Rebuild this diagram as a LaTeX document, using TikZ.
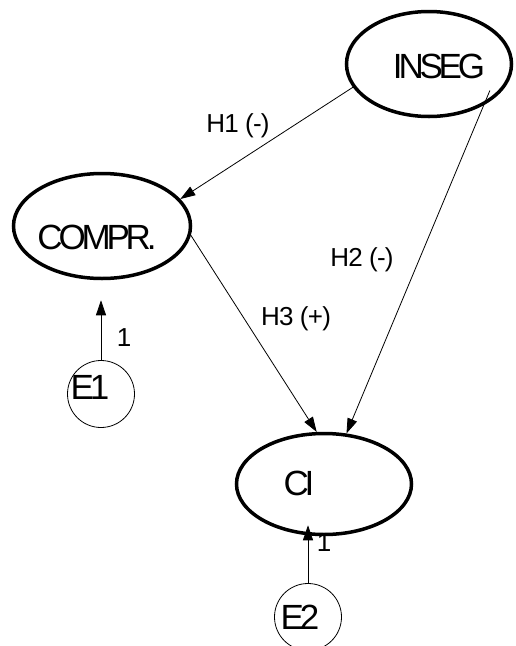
\documentclass[tikz,border=0pt]{standalone}
\usepackage{fontspec}
\setmainfont{Liberation Sans}
\newfontfamily\nodefont{Liberation Sans}[LetterSpace=-12]
\newfontfamily\pathfont{Liberation Sans}[LetterSpace=-3]
\usetikzlibrary{shapes.geometric,arrows.meta}
\begin{document}
\begin{tikzpicture}[x=1pt,y=-1pt,
  latent/.style={ellipse,draw,line width=3.5pt,inner sep=0pt},
  errterm/.style={circle,draw,line width=0.8pt,inner sep=0pt,minimum size=67pt},
  nodetext/.style={inner sep=0pt,font=\nodefont\fontsize{35}{35}\selectfont},
  pathlabel/.style={inner sep=0pt,font=\pathfont\fontsize{26}{26}\selectfont},
  path/.style={line width=0.8pt,-{Triangle[length=15pt,width=10pt]}}]
\useasboundingbox (0,0) rectangle (515,646);

% latent variables
\node[latent,minimum width=165pt,minimum height=105pt] (inseg) at (429,64) {};
\node[latent,minimum width=177pt,minimum height=105pt] (compr) at (102,226) {};
\node[latent,minimum width=175pt,minimum height=101pt] (ci) at (324,484) {};
\node[nodetext] (inseg-t) at (439,66) {INSEG};
\node[nodetext] (compr-t) at (97,237) {COMPR.};
\node[nodetext] (ci-t) at (299,483) {CI};

% error terms
\node[errterm] (e1) at (101,394) {};
\node[errterm] (e2) at (308,617) {};
\node[nodetext] (e1-t) at (90,387) {E1};
\node[nodetext] (e2-t) at (300,617) {E2};

% structural paths
\draw[path] (inseg.197) -- (compr.19);
\draw[path,shorten <=-16pt] (inseg.323) -- (ci.66);
\draw[path] (compr.354) -- (ci.98);
\draw[path,shorten >=20pt] (e1.north) -- (e1.north |- compr.south);
\draw[path,shorten >=-11pt] (e2.north) -- (e2.north |- ci.south);

% path labels
\node[pathlabel] (h1) at (238,126) {H1 (-)};
\node[pathlabel] (h2) at (362,260) {H2 (-)};
\node[pathlabel] (h3) at (296,319) {H3 (+)};
\node[pathlabel] (w1) at (124,338) {1};
\node[pathlabel] (w2) at (324,543) {1};
\end{tikzpicture}
\end{document}
